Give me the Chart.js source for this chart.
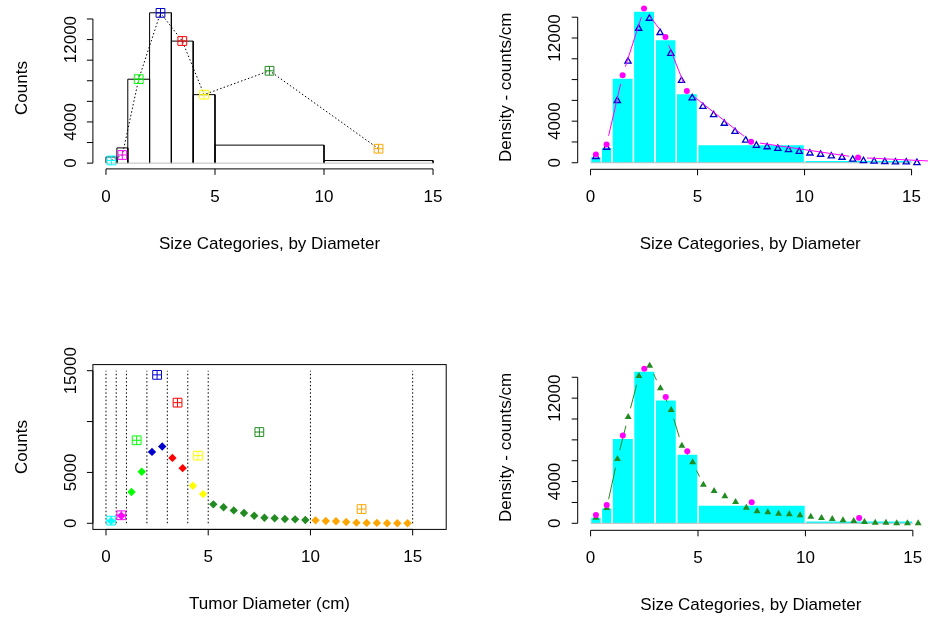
<!DOCTYPE html>
<html>
<head>
<meta charset="utf-8">
<script src="https://cdn.jsdelivr.net/npm/chart.js@4.4.1/dist/chart.umd.min.js"></script>
<style>
  body { margin: 0; background: #fff; }
  #wrap { position: relative; width: 928px; height: 619px; }
  #wrap canvas { position: absolute; left: 0; top: 0; }
</style>
</head>
<body>
<div id="wrap">
  <canvas id="histCounts" width="928" height="619"></canvas>
  <canvas id="densityBlue" width="928" height="619"></canvas>
  <canvas id="tumorCounts" width="928" height="619"></canvas>
  <canvas id="densityGreen" width="928" height="619"></canvas>
</div>
<script>
// size bins (cm)
const breaks = [0, 0.5, 1, 2, 3, 4, 5, 10, 15];
const binMids = [0.25, 0.75, 1.5, 2.5, 3.5, 4.5, 7.5, 12.5];
const binColors = ['#00FFFF', '#FF00FF', '#00FF00', '#0000CD', '#FF0000', '#FFFF00', '#228B22', '#FFA500'];
const binCounts = [260, 790, 8160, 14590, 11860, 6650, 8970, 1400];
const binDensity = [600, 1480, 8150, 14600, 11850, 6650, 1750, 250];

// pink dots (density at bin middles), last one sits off the plot
const dotX = [0.25, 0.75, 1.5, 2.5, 3.5, 4.5, 7.5, 12.5, 17.5];
const dotDensity = [800, 1750, 8420, 14830, 12100, 6900, 2020, 500, 0];

// half-cm steps
const halfX = [0.25, 0.75, 1.25, 1.75, 2.25, 2.75, 3.25, 3.75, 4.25, 4.75,
  5.25, 5.75, 6.25, 6.75, 7.25, 7.75, 8.25, 8.75, 9.25, 9.75,
  10.25, 10.75, 11.25, 11.75, 12.25, 12.75, 13.25, 13.75, 14.25, 14.75, 15.25];
const halfCounts = [225, 745, 3070, 5060, 7020, 7550, 6430, 5420, 3690, 2870,
  1860, 1570, 1270, 1010, 745, 550, 490, 420, 390, 320,
  290, 225, 195, 130, 65, 40, 40, 10, 10, 0];
const blueDensity = [570, 1470, 5970, 9750, 12920, 13880, 12510, 10510, 7900, 6230,
  5400, 4610, 3780, 2990, 2160, 1660, 1520, 1370, 1240, 1080,
  920, 800, 640, 510, 320, 190, 130, 95, 60, 60, 0];
const greenDensity = [540, 1470, 6170, 10190, 14120, 15110, 12940, 10860, 7440, 5850,
  3700, 3100, 2590, 2040, 1500, 1150, 1050, 920, 860, 770,
  630, 510, 410, 290, 220, 125, 60, 60, 0, 0, 0];

// ticks
const sizeTicks = [0, 5, 10, 15];
const sizeTickLabels = ['0', '5', '10', '15'];
const countTicks = [0, 2000, 4000, 6000, 8000, 10000, 12000, 14000];
const countTickLabels = ['0', '', '4000', '', '', '', '12000', ''];
const tumorTicks = [0, 5000, 10000, 15000];
const tumorTickLabels = ['0', '5000', '', '15000'];

const FONT = '17px "Liberation Sans", Arial, sans-serif';
const TICK_LEN = 6;
const DOTS = [1.5, 2.2];
const axisSpecs = {};

// R style axes: line only from first to last tick
const rAxes = {
    id: 'rAxes',
    afterDraw(chart) {
        const o = axisSpecs[chart.canvas.id];
        const { ctx, chartArea: a, scales: { x, y } } = chart;
        ctx.save();
        ctx.strokeStyle = '#000';
        ctx.fillStyle = '#000';
        ctx.lineWidth = 1;
        ctx.font = FONT;
        if (o.box) ctx.strokeRect(a.left, a.top, a.right - a.left, a.bottom - a.top);
        ctx.beginPath();
        ctx.moveTo(x.getPixelForValue(o.xTicks[0]), a.bottom);
        ctx.lineTo(x.getPixelForValue(o.xTicks[o.xTicks.length - 1]), a.bottom);
        o.xTicks.forEach(v => {
            const px = x.getPixelForValue(v);
            ctx.moveTo(px, a.bottom);
            ctx.lineTo(px, a.bottom + TICK_LEN);
        });
        ctx.moveTo(a.left, y.getPixelForValue(o.yTicks[0]));
        ctx.lineTo(a.left, y.getPixelForValue(o.yTicks[o.yTicks.length - 1]));
        o.yTicks.forEach(v => {
            const py = y.getPixelForValue(v);
            ctx.moveTo(a.left, py);
            ctx.lineTo(a.left - TICK_LEN, py);
        });
        ctx.stroke();

        ctx.textAlign = 'center';
        ctx.textBaseline = 'middle';
        o.xTicks.forEach((v, i) => ctx.fillText(o.xLabels[i], x.getPixelForValue(v), a.bottom + 28));
        ctx.fillText(o.xTitle, (a.left + a.right) / 2, a.bottom + 75);
        o.yTicks.forEach((v, i) => {
            if (!o.yLabels[i]) return;
            ctx.save();
            ctx.translate(a.left - 22, y.getPixelForValue(v));
            ctx.rotate(-Math.PI / 2);
            ctx.fillText(o.yLabels[i], 0, 0);
            ctx.restore();
        });
        ctx.save();
        ctx.translate(a.left - 71, (a.top + a.bottom) / 2);
        ctx.rotate(-Math.PI / 2);
        ctx.fillText(o.yTitle, 0, 0);
        ctx.restore();
        ctx.restore();
    }
};

// lines with gaps round the points, like type = "b"
const gapLines = {
    id: 'gapLines',
    afterDatasetDraw(chart, args) {
        const g = chart.data.datasets[args.index].gapLine;
        if (!g) return;
        const pts = args.meta.data;
        const ctx = chart.ctx;
        ctx.save();
        ctx.strokeStyle = g.color;
        ctx.lineWidth = g.width;
        ctx.beginPath();
        for (let i = 1; i < pts.length; i++) {
            const p = pts[i - 1], q = pts[i];
            const dx = q.x - p.x, dy = q.y - p.y;
            const len = Math.hypot(dx, dy);
            if (len <= 2 * g.gap) continue;
            const t = g.gap / len;
            ctx.moveTo(p.x + dx * t, p.y + dy * t);
            ctx.lineTo(q.x - dx * t, q.y - dy * t);
        }
        ctx.stroke();
        ctx.restore();
    }
};

function binPath(i) {
    return [
        { x: breaks[i], y: 0 },
        { x: breaks[i], y: binDensity[i] },
        { x: breaks[i + 1], y: binDensity[i] },
        { x: breaks[i + 1], y: 0 }
    ];
}

function binIndex(v) {
    for (let i = 0; i < breaks.length - 1; i++) {
        if (v >= breaks[i] && v < breaks[i + 1]) return i;
    }
    return breaks.length - 2;
}

function baseline(order) {
    return {
        type: 'line', order,
        data: [{ x: breaks[0], y: 0 }, { x: breaks[breaks.length - 1], y: 0 }],
        borderColor: '#BEBEBE', borderWidth: 1, pointRadius: 0, clip: false
    };
}

function squares(values, order) {
    const pts = binMids.map((m, i) => ({ x: m, y: values[i] }));
    return [
        {
            type: 'scatter', order, data: pts, pointStyle: 'rect', pointRadius: 6.2,
            pointBorderColor: binColors, pointBackgroundColor: 'rgba(0,0,0,0)', pointBorderWidth: 1, clip: false
        },
        {
            type: 'scatter', order, data: pts, pointStyle: 'cross', pointRadius: 4.3,
            pointBorderColor: binColors, pointBorderWidth: 1, clip: false
        }
    ];
}

function filledBars() {
    return breaks.slice(0, -1).map((b, i) => ({
        type: 'line', order: 9, data: binPath(i), fill: 'origin',
        backgroundColor: '#00FFFF', borderColor: '#FFFFFF', borderWidth: 1.5,
        pointRadius: 0, tension: 0, clip: false
    }));
}

function dots(order, gapLine) {
    return {
        type: 'scatter', order,
        data: dotX.map((v, i) => ({ x: v, y: dotDensity[i] })),
        pointStyle: 'circle', pointRadius: 3, pointBackgroundColor: '#FF00FF', pointBorderWidth: 0,
        gapLine, clip: false
    };
}

function makeChart(id, area, xRange, yRange, datasets, spec) {
    axisSpecs[id] = spec;
    return new Chart(document.getElementById(id), {
        type: 'scatter',
        data: { datasets },
        options: {
            responsive: false,
            animation: false,
            events: [],
            layout: { padding: { left: area.l, top: area.t, right: 928 - area.r, bottom: 619 - area.b } },
            scales: {
                x: { type: 'linear', display: false, min: xRange[0], max: xRange[1] },
                y: { type: 'linear', display: false, min: yRange[0], max: yRange[1] }
            },
            plugins: { legend: { display: false }, tooltip: { enabled: false } }
        },
        plugins: [rAxes, gapLines]
    });
}

// TOP LEFT: outlined histogram + counts
makeChart('histCounts', { l: 92.9, t: 4, r: 446.1, b: 168.9 }, [-0.6, 15.6], [-560, 15143], [
    ...breaks.slice(0, -1).map((b, i) => ({
        type: 'line', order: 9, data: binPath(i), borderColor: '#000', borderWidth: 1,
        pointRadius: 0, tension: 0, fill: false, clip: false
    })),
    baseline(8),
    {
        type: 'line', order: 5, data: binMids.map((m, i) => ({ x: m, y: binCounts[i] })),
        borderColor: '#000', borderWidth: 1, borderDash: DOTS, pointRadius: 0, clip: false
    },
    ...squares(binCounts, 1)
], {
    xTicks: sizeTicks, xLabels: sizeTickLabels, yTicks: countTicks, yLabels: countTickLabels,
    xTitle: 'Size Categories, by Diameter', yTitle: 'Counts'
});

// TOP RIGHT: density bars, blue triangles, pink dots
makeChart('densityBlue', { l: 577.7, t: 4, r: 928, b: 169.3 }, [-0.6, 15.52], [-630, 15145], [
    ...filledBars(),
    baseline(8),
    {
        type: 'scatter', order: 3, data: halfX.map((v, i) => ({ x: v, y: blueDensity[i] })),
        pointStyle: 'triangle', pointRadius: 3.6, pointBorderColor: '#0000CD',
        pointBackgroundColor: 'rgba(0,0,0,0)', pointBorderWidth: 1.3, clip: false
    },
    dots(2, { color: '#FF00FF', width: 1, gap: 9 })
], {
    xTicks: sizeTicks, xLabels: sizeTickLabels, yTicks: countTicks, yLabels: countTickLabels,
    xTitle: 'Size Categories, by Diameter', yTitle: 'Density - counts/cm'
});

// BOTTOM LEFT: counts per half cm
makeChart('tumorCounts', { l: 92.9, t: 364.6, r: 446.2, b: 529.4 }, [-0.64, 16.64], [-600, 15600], [
    ...breaks.map(b => ({
        type: 'line', order: 9, data: [{ x: b, y: 0 }, { x: b, y: tumorTicks[tumorTicks.length - 1] }],
        borderColor: '#000', borderWidth: 1, borderDash: DOTS, pointRadius: 0, clip: false
    })),
    {
        type: 'scatter', order: 3, data: halfCounts.map((v, i) => ({ x: halfX[i], y: v })),
        pointStyle: 'rectRot', pointRadius: 4.2, pointBorderWidth: 0,
        pointBackgroundColor: halfCounts.map((v, i) => binColors[binIndex(halfX[i])]), clip: false
    },
    ...squares(binCounts, 1)
], {
    xTicks: sizeTicks, xLabels: sizeTickLabels, yTicks: tumorTicks, yLabels: tumorTickLabels,
    xTitle: 'Tumor Diameter (cm)', yTitle: 'Counts', box: true
});

// BOTTOM RIGHT: density bars, green triangles, pink dots
makeChart('densityGreen', { l: 577.7, t: 364.6, r: 928, b: 530.3 }, [-0.6, 15.52], [-671, 15217], [
    ...filledBars(),
    baseline(8),
    {
        type: 'scatter', order: 3, data: halfX.map((v, i) => ({ x: v, y: greenDensity[i] })),
        pointStyle: 'triangle', pointRadius: 4, pointBackgroundColor: '#228B22', pointBorderWidth: 0,
        gapLine: { color: '#228B22', width: 1, gap: 9 }, clip: false
    },
    dots(2, null)
], {
    xTicks: sizeTicks, xLabels: sizeTickLabels, yTicks: countTicks, yLabels: countTickLabels,
    xTitle: 'Size Categories, by Diameter', yTitle: 'Density - counts/cm'
});
</script>
</body>
</html>
